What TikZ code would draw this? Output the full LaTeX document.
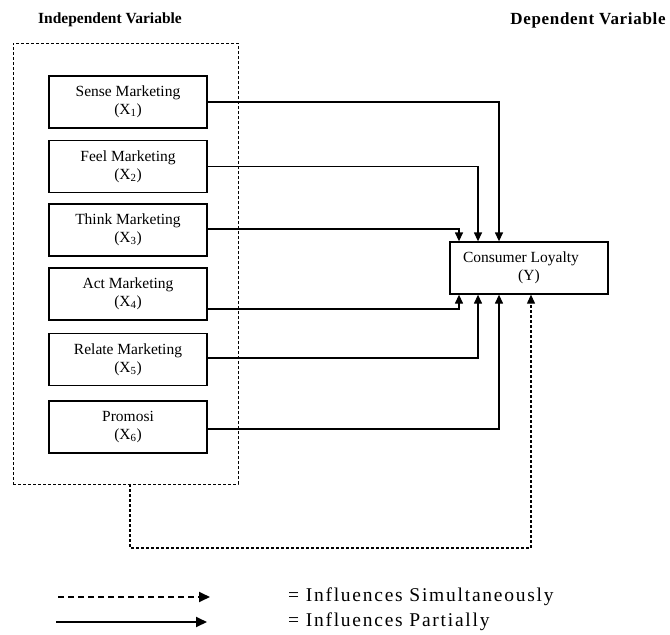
\documentclass[tikz,border=0pt]{standalone}
\usepackage{fontspec}
\setmainfont{Liberation Serif}
\newfontfamily\legfont{Liberation Serif}[LetterSpace=9]
\newfontfamily\depfont{Liberation Serif}[LetterSpace=4]
\usetikzlibrary{arrows.meta}
\begin{document}
\begin{tikzpicture}[x=1pt,y=-1pt,
  varbox/.style={draw, line width=1.3pt, minimum width=158pt, minimum height=52pt, inner sep=0pt, align=center, font=\fontsize{15.5}{18}\selectfont},
  partial/.style={draw, line width=1.3pt, -{Triangle[length=9pt,width=8pt]}},
  simul/.style={draw, line width=1.1pt, dash pattern=on 3pt off 2pt, -{Triangle[length=9pt,width=8pt]}},
  title/.style={font=\fontsize{15.5}{18}\selectfont\bfseries},
  legtext/.style={anchor=west, font=\fontsize{19.5}{21}\legfont, inner sep=0pt}]
\useasboundingbox (0,0) rectangle (670,635);
\node[title] (t1) at (110,20) {Independent Variable};
\node[font=\fontsize{17}{18}\depfont\bfseries] (t2) at (588,20) {Dependent Variable};
\node[draw, line width=0.9pt, dash pattern=on 3pt off 2pt, minimum width=225pt, minimum height=441pt, inner sep=0pt] (iv) at (125.5,263.5) {};
\node[varbox] (x1) at (128,102) {Sense Marketing\\(X\textsubscript{1})};
\node[varbox] (x2) at (128,166.5) {Feel Marketing\\(X\textsubscript{2})};
\node[varbox] (x3) at (128,230) {Think Marketing\\(X\textsubscript{3})};
\node[varbox] (x4) at (128,294) {Act Marketing\\(X\textsubscript{4})};
\node[varbox] (x5) at (128,359.5) {Relate Marketing\\(X\textsubscript{5})};
\node[varbox] (x6) at (128,427) {Promosi\\(X\textsubscript{6})};
\node[varbox] (y) at (529,268) {Consumer Loyalty\hspace*{16pt}\\(Y)};
\draw[partial] (x1.east) -| ([xshift=-30pt]y.north);
\draw[partial] (x2.east) -| ([xshift=-51pt]y.north);
\draw[partial] ([yshift=1pt]x3.east) -| ([xshift=-70pt]y.north);
\draw[partial] ([yshift=-15pt]x4.east) -| ([xshift=-70pt]y.south);
\draw[partial] ([yshift=1.5pt]x5.east) -| ([xshift=-51pt]y.south);
\draw[partial] ([yshift=-2pt]x6.east) -| ([xshift=-30pt]y.south);
\coordinate (c1) at (130,548);
\draw[simul] ([xshift=4.5pt]iv.south) -- (c1) -| ([xshift=2pt]y.south);
\coordinate (la1) at (58,597);
\coordinate (la2) at (210,597);
\coordinate (lb1) at (56,622);
\coordinate (lb2) at (207,622);
\draw[line width=1.8pt, dash pattern=on 6pt off 4pt, -{Triangle[length=11pt,width=10pt]}] (la1) -- (la2);
\draw[line width=1.8pt, -{Triangle[length=11pt,width=10pt]}] (lb1) -- (lb2);
\node[legtext] (l1) at (288,597) {= Influences Simultaneously};
\node[legtext] (l2) at (288,622) {= Influences Partially};
\end{tikzpicture}
\end{document}
